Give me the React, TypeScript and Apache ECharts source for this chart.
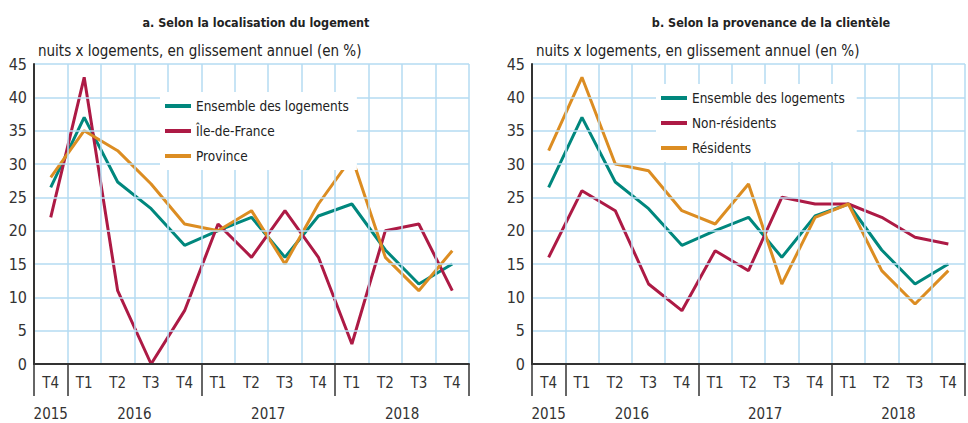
import React, { useEffect, useRef } from "react";
import * as echarts from "echarts";

const quarters = ["T4", "T1", "T2", "T3", "T4", "T1", "T2", "T3", "T4", "T1", "T2", "T3", "T4"];
const quarterYears = ["2015", "2016", "2016", "2016", "2016", "2017", "2017", "2017", "2017", "2018", "2018", "2018", "2018"];

const ensemble = [26.5, 37, 27.3, 23.3, 17.8, 20, 22, 16, 22.2, 24, 17.1, 12, 15];
const ileDeFrance = [22, 43, 11, 0, 8, 21, 16, 23, 16, 3, 20, 21, 11];
const province = [28, 35, 32, 27, 21, 20, 23, 15, 24, 31, 16, 11, 17];
const nonResidents = [16, 26, 23, 12, 8, 17, 14, 25, 24, 24, 22, 19, 18];
const residents = [32, 43, 30, 29, 23, 21, 27, 12, 22, 24, 14, 9, 14];

const titleA = "a. Selon la localisation du logement";
const titleB = "b. Selon la provenance de la clientèle";
const unitText = "nuits x logements, en glissement annuel (en %)";
const yTicks = { min: 0, max: 45, interval: 5 };

const FONT = "'Liberation Sans Narrow', 'DejaVu Sans Condensed', 'Roboto Condensed', sans-serif";
const TEAL = "#00877d";
const CRIMSON = "#ad1a45";
const ORANGE = "#dc8d22";
const GRIDBLUE = "#b5dbf2";
const DARK = "#333333";

// year label centers (in category units) derived from quarterYears
const yearCenters: Record<string, number> = {};
(() => {
  const groups: Record<string, number[]> = {};
  quarterYears.forEach((y, i) => {
    (groups[y] = groups[y] || []).push(i);
  });
  Object.keys(groups).forEach((y) => {
    const idx = groups[y];
    yearCenters[y] = (idx[0] + idx[idx.length - 1] + 1) / 2;
  });
})();
// year-boundary tick indices
const boundaryTicks = quarterYears
  .map((y, i) => (i === 0 || y !== quarterYears[i - 1] ? i : -1))
  .filter((i) => i >= 0);

function buildOption() {
  const grids = [
    { left: 34, top: 64, width: 435, height: 300 },
    { left: 532, top: 64, width: 435, height: 300 },
  ];
  const xAxes: any[] = [];
  const yAxes: any[] = [];
  [0, 1].forEach((g) => {
    xAxes.push({
      type: "category",
      gridIndex: g,
      data: quarters,
      boundaryGap: true,
      axisLine: { show: true, lineStyle: { color: DARK, width: 2 } },
      axisTick: {
        show: true,
        interval: (i: number) => boundaryTicks.includes(i),
        length: 32,
        lineStyle: { color: DARK, width: 1.5 },
      },
      axisLabel: { interval: 0, margin: 11, fontSize: 15, color: DARK, fontFamily: FONT },
      splitLine: { show: true, interval: 0, lineStyle: { color: GRIDBLUE, width: 1.5 } },
      z: 5,
    });
    xAxes.push({
      type: "value",
      gridIndex: g,
      min: 0,
      max: quarters.length,
      interval: 0.5,
      position: "bottom",
      axisLine: { show: false },
      axisTick: { show: false },
      splitLine: { show: false },
      axisLabel: {
        margin: 42,
        fontSize: 15,
        color: DARK,
        fontFamily: FONT,
        showMinLabel: true,
        showMaxLabel: true,
        formatter: (v: number) => {
          const hit = Object.keys(yearCenters).find((y) => Math.abs(yearCenters[y] - v) < 1e-6);
          return hit || "";
        },
      },
    });
    yAxes.push({
      type: "value",
      gridIndex: g,
      min: yTicks.min,
      max: yTicks.max,
      interval: yTicks.interval,
      axisLine: { show: true, lineStyle: { color: DARK, width: 2 } },
      axisTick: { show: false },
      axisLabel: { margin: 7, fontSize: 16, color: DARK, fontFamily: FONT },
      splitLine: { show: true, lineStyle: { color: GRIDBLUE, width: 1.5 } },
      z: 5,
    });
  });

  const line = (name: string, data: number[], color: string, g: number) => ({
    type: "line",
    name,
    data,
    xAxisIndex: g * 2,
    yAxisIndex: g,
    symbol: "none",
    lineStyle: { color, width: 3 },
    itemStyle: { color },
    z: 3,
  });

  const legendBase = {
    orient: "vertical",
    backgroundColor: "#ffffff",
    icon: "rect",
    itemWidth: 26,
    itemHeight: 4,
    itemGap: 9,
    padding: [6, 8, 6, 5],
    textStyle: { fontSize: 13.5, lineHeight: 16, color: "#222", fontFamily: FONT },
    z: 10,
  };

  return {
    animation: false,
    grid: grids,
    xAxis: xAxes,
    yAxis: yAxes,
    title: [
      {
        text: titleA,
        left: 251,
        top: 11,
        textAlign: "center",
        textStyle: { fontSize: 12.5, fontWeight: "bold", color: "#222", fontFamily: FONT },
      },
      {
        text: titleB,
        left: 766,
        top: 11,
        textAlign: "center",
        textStyle: { fontSize: 12.5, fontWeight: "bold", color: "#222", fontFamily: FONT },
      },
      {
        text: unitText,
        left: 33,
        top: 38,
        textStyle: { fontSize: 15, fontWeight: "normal", color: "#222", fontFamily: FONT },
      },
      {
        text: unitText,
        left: 531,
        top: 38,
        textStyle: { fontSize: 15, fontWeight: "normal", color: "#222", fontFamily: FONT },
      },
    ],
    legend: [
      { ...legendBase, left: 160, top: 92, data: ["Ensemble des logements", "Île-de-France", "Province"] },
      { ...legendBase, left: 656, top: 84, data: ["Ensemble des logements ", "Non-résidents", "Résidents"] },
    ],
    series: [
      line("Ensemble des logements", ensemble, TEAL, 0),
      line("Île-de-France", ileDeFrance, CRIMSON, 0),
      line("Province", province, ORANGE, 0),
      line("Ensemble des logements ", ensemble, TEAL, 1),
      line("Non-résidents", nonResidents, CRIMSON, 1),
      line("Résidents", residents, ORANGE, 1),
    ],
  };
}

export default function App() {
  const ref = useRef<HTMLDivElement>(null);
  useEffect(() => {
    if (!ref.current) return;
    const chart = echarts.init(ref.current, undefined, { renderer: "svg" });
    chart.setOption(buildOption() as any);
    return () => chart.dispose();
  }, []);
  return <div ref={ref} style={{ width: 968, height: 423, position: "absolute", left: 0, top: 0 }} />;
}
